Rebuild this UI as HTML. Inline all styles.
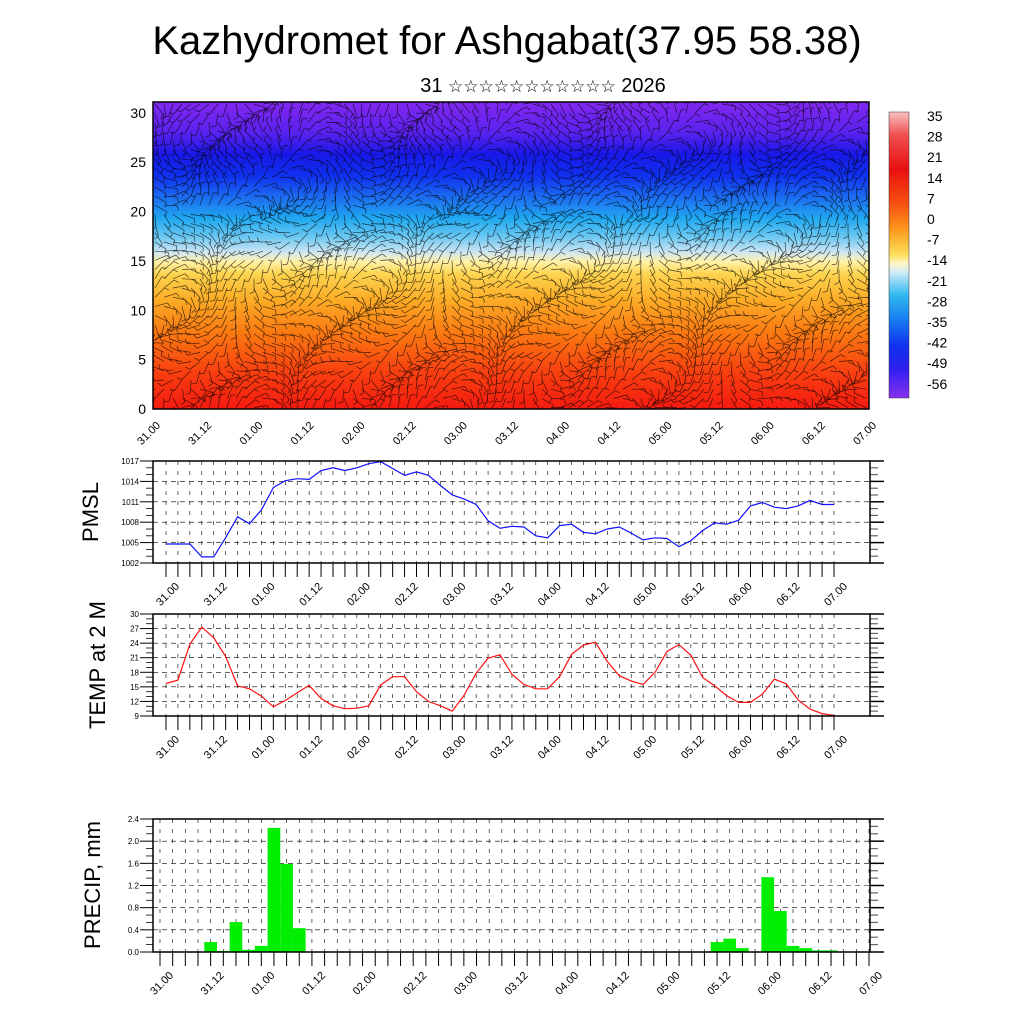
<!DOCTYPE html>
<html><head><meta charset="utf-8">
<style>
html,body{margin:0;padding:0;background:#fff;}
svg{display:block;font-family:"Liberation Sans","DejaVu Sans",sans-serif;}
</style></head>
<body>
<svg id="chart" width="1024" height="1024" viewBox="0 0 1024 1024" xmlns="http://www.w3.org/2000/svg">
<defs>
<linearGradient id="tgrad" x1="0" y1="1" x2="0" y2="0">
<stop offset="0" stop-color="#f51a10"/>
<stop offset="0.12" stop-color="#f84010"/>
<stop offset="0.25" stop-color="#fa7a12"/>
<stop offset="0.36" stop-color="#fcae28"/>
<stop offset="0.44" stop-color="#fdd450"/>
<stop offset="0.48" stop-color="#fff2a8"/>
<stop offset="0.51" stop-color="#cfe6f2"/>
<stop offset="0.56" stop-color="#6cc8f2"/>
<stop offset="0.62" stop-color="#20a8f0"/>
<stop offset="0.69" stop-color="#1c6cf0"/>
<stop offset="0.76" stop-color="#1030ee"/>
<stop offset="0.83" stop-color="#1818e6"/>
<stop offset="0.9" stop-color="#5a22ee"/>
<stop offset="1" stop-color="#8228f0"/>
</linearGradient>
<linearGradient id="cbgrad" x1="0" y1="0" x2="0" y2="1">
<stop offset="0" stop-color="#f8c0c0"/>
<stop offset="0.08" stop-color="#f05050"/>
<stop offset="0.2" stop-color="#e81010"/>
<stop offset="0.32" stop-color="#f85010"/>
<stop offset="0.42" stop-color="#fca020"/>
<stop offset="0.5" stop-color="#fde060"/>
<stop offset="0.53" stop-color="#fff6c8"/>
<stop offset="0.56" stop-color="#d0ecf8"/>
<stop offset="0.64" stop-color="#30b8f0"/>
<stop offset="0.72" stop-color="#1880f0"/>
<stop offset="0.82" stop-color="#1030f0"/>
<stop offset="0.9" stop-color="#3020f0"/>
<stop offset="1" stop-color="#8830f0"/>
</linearGradient>
<clipPath id="topclip"><rect x="153" y="102" width="716" height="307"/></clipPath>
</defs>

<text x="543" y="92" font-size="20" text-anchor="middle">31 <tspan font-size="17" font-family="DejaVu Sans, sans-serif">☆☆☆☆☆☆☆☆☆☆☆</tspan> 2026</text>
<text x="507" y="54" font-size="40" text-anchor="middle">Kazhydromet for Ashgabat(37.95 58.38)</text>

<g id="top">
<rect x="153" y="102" width="716" height="307" fill="url(#tgrad)"/>
<g id="barbs" clip-path="url(#topclip)"></g>
<rect x="153" y="102" width="716" height="307" fill="none" stroke="#000" stroke-width="1.5"/>
</g>
<g id="cbar">
<rect x="889" y="112" width="20" height="286" fill="url(#cbgrad)" stroke="#333" stroke-width="0.5"/>
</g>

<text transform="translate(98,512) rotate(-90)" font-size="22" text-anchor="middle">PMSL</text>
<text transform="translate(105,665) rotate(-90)" font-size="22" text-anchor="middle">TEMP at 2 M</text>
<text transform="translate(100,885) rotate(-90)" font-size="22" text-anchor="middle">PRECIP, mm</text>

<g id="p1"></g>
<g id="p2"></g>
<g id="p3"></g>
</svg>
<script>
const timeLabels = ["31.00","31.12","01.00","01.12","02.00","02.12","03.00","03.12","04.00","04.12","05.00","05.12","06.00","06.12","07.00"];
const heightTicks = [0,5,10,15,20,25,30];
const colorbarLabels = [35,28,21,14,7,0,-7,-14,-21,-28,-35,-42,-49,-56];
const pmslValues = [1004.8,1004.8,1004.8,1002.9,1002.9,1005.7,1008.8,1007.8,1009.8,1013.1,1014.1,1014.4,1014.3,1015.6,1016.0,1015.6,1016.0,1016.6,1016.9,1015.9,1014.9,1015.4,1014.9,1013.4,1012.0,1011.4,1010.6,1008.2,1007.1,1007.4,1007.3,1006.0,1005.7,1007.5,1007.7,1006.5,1006.3,1007.0,1007.3,1006.4,1005.4,1005.7,1005.6,1004.4,1005.3,1006.8,1007.9,1007.7,1008.3,1010.4,1010.9,1010.2,1010.0,1010.4,1011.2,1010.6,1010.6];
const pmslTicks = [1002,1005,1008,1011,1014,1017];
const tempValues = [15.7,16.4,23.8,27.3,25.1,21.3,15.2,14.6,13.1,10.9,12.2,13.8,15.3,12.6,11.1,10.5,10.6,11.1,15.4,17.1,17.1,14.0,12.0,11.1,10.0,13.3,17.8,20.9,21.6,17.6,15.5,14.6,14.6,17.1,21.7,23.6,24.2,20.2,17.3,16.2,15.5,18.0,22.3,23.7,21.5,16.9,15.2,13.2,11.8,11.8,13.5,16.6,15.6,12.3,10.4,9.5,9.1];
const tempTicks = [9,12,15,18,21,24,27,30];
const precipValues = [0,0,0,0,0.18,0.02,0.54,0.04,0.11,2.24,1.59,0.43,0,0,0,0,0,0,0,0,0,0,0,0,0,0,0,0,0,0,0,0,0,0,0,0,0,0,0,0,0,0,0,0,0.18,0.24,0.07,0,1.35,0.74,0.11,0.07,0.03,0.03,0,0,0];
const precipTicks = ["0.0","0.4","0.8","1.2","1.6","2.0","2.4"];

const NS="http://www.w3.org/2000/svg";
function mk(tag,attrs,parent){const e=document.createElementNS(NS,tag);for(const k in attrs)e.setAttribute(k,attrs[k]);parent.appendChild(e);return e;}

const topG=document.getElementById('top');
const tx0=153,tx1=869,ty0=409,ty1=102,tmax=31.1;
const tX=i=>tx0+(tx1-tx0)*i/(timeLabels.length-1);
const tY=v=>ty0-(ty0-ty1)*v/tmax;
heightTicks.forEach(v=>{
  const t=mk('text',{x:146,y:tY(v)+5,'font-size':14,'text-anchor':'end'},topG);
  t.textContent=v;
  
  
});
timeLabels.forEach((l,i)=>{
  const x=tX(i)+8,y=426;
  const t=mk('text',{x:x,y:y,'font-size':11,'text-anchor':'end',transform:`rotate(-45 ${x} ${y})`},topG);
  t.textContent=l;
  
  
});
const barbs=document.getElementById('barbs');
let d='';
for(let gx=0;gx<80;gx++){for(let gy=0;gy<34;gy++){
  const x=155+gx*9,y=104+gy*9.2;
  const a=Math.sin(gx*0.31+gy*0.27)*1.7+Math.cos(gy*0.45+gx*0.05)*0.9+(gy<12?0:1.1);
  const L=13;
  const x2=x+L*Math.cos(a),y2=y+L*Math.sin(a);
  d+=`M${x.toFixed(1)} ${y.toFixed(1)}L${x2.toFixed(1)} ${y2.toFixed(1)}`;
  const b=a+1.2;
  d+=`M${x2.toFixed(1)} ${y2.toFixed(1)}l${(5*Math.cos(b)).toFixed(1)} ${(5*Math.sin(b)).toFixed(1)}`;
}}
mk('path',{d:d,stroke:'#000','stroke-width':0.7,'stroke-opacity':0.7,fill:'none'},barbs);

const cb=document.getElementById('cbar');
colorbarLabels.forEach((v,i)=>{
  const t=mk('text',{x:927,y:121+i*20.6,'font-size':14},cb);
  t.textContent=v;
  
  
});

function panel(g,o){
  const {x0,x1,y0,y1,d0,d1,ticks,vmin,vmax,labelFs}=o;
  const n=57;
  const X=i=>d0+(d1-d0)*i/(n-1);
  const Y=v=>y0-(y0-y1)*(v-vmin)/(vmax-vmin);
  for(let i=0;i<n;i++){
    const l=mk('line',{x1:X(i),x2:X(i),y1:y1,y2:y0,stroke:'#000','stroke-width':0.6,'stroke-dasharray':'4 6'},g);
    
    
    const tk=mk('line',{x1:X(i),x2:X(i),y1:y0,y2:y0+14,stroke:'#000','stroke-width':1},g);
    
    
  }
  ticks.forEach((lab,k)=>{
    const v=vmin+(vmax-vmin)*k/(ticks.length-1);
    const y=Y(v);
    const gl=mk('line',{x1:x0,x2:x1,y1:y,y2:y,stroke:'#000','stroke-width':0.6,'stroke-dasharray':'5 4'},g);
    
    
    mk('line',{x1:x0-13,x2:x0,y1:y,y2:y,stroke:'#000','stroke-width':1},g);
    mk('line',{x1:x1,x2:x1+14,y1:y,y2:y,stroke:'#000','stroke-width':1.5},g);
    const t=mk('text',{x:x0-14,y:y+3,'font-size':labelFs,'text-anchor':'end'},g);
    t.textContent=lab;
    
    
    if(k<ticks.length-1){
      const step=(Y(v)-Y(vmin+(vmax-vmin)*(k+1)/(ticks.length-1)))/3;
      for(let m=1;m<3;m++){
        mk('line',{x1:x0-7,x2:x0,y1:y-step*m,y2:y-step*m,stroke:'#000','stroke-width':0.8},g);
        mk('line',{x1:x1,x2:x1+8,y1:y-step*m,y2:y-step*m,stroke:'#666','stroke-width':1.2},g);
      }
    }
  });
  timeLabels.forEach((l,i)=>{
    const x=X(i*4)+14,y=y0+24;
    const t=mk('text',{x:x,y:y,'font-size':11,'text-anchor':'end',transform:`rotate(-45 ${x} ${y})`},g);
    t.textContent=l;
    
    
  });
  return {X,Y};
}
function frame(g,x0,x1,y0,y1){
  const f=mk('rect',{x:x0,y:y1,width:x1-x0,height:y0-y1,fill:'none',stroke:'#000','stroke-width':1.5},g);
  
  
}

const p1=document.getElementById('p1');
let ax=panel(p1,{x0:153,x1:870,y0:563,y1:461,d0:166,d1:834,ticks:pmslTicks,vmin:1002,vmax:1017,labelFs:8});
let pts=pmslValues.map((v,i)=>`${ax.X(i).toFixed(1)},${ax.Y(v).toFixed(1)}`).join(' ');
const l1=mk('polyline',{points:pts,fill:'none',stroke:'#1010ff','stroke-width':1.2},p1);


frame(p1,153,870,563,461);

const p2=document.getElementById('p2');
ax=panel(p2,{x0:153,x1:870,y0:716,y1:614,d0:166,d1:834,ticks:tempTicks,vmin:9,vmax:30,labelFs:8});
pts=tempValues.map((v,i)=>`${ax.X(i).toFixed(1)},${ax.Y(v).toFixed(1)}`).join(' ');
const l2=mk('polyline',{points:pts,fill:'none',stroke:'#ff1010','stroke-width':1.2},p2);


frame(p2,153,870,716,614);

const p3=document.getElementById('p3');
ax=panel(p3,{x0:153,x1:870,y0:952,y1:819,d0:160,d1:869,ticks:precipTicks,vmin:0,vmax:2.4,labelFs:8});
const bw=(869-160)/56;
precipValues.forEach((v,i)=>{
  if(v<=0)return;
  const r=mk('rect',{x:ax.X(i)-bw/2,y:ax.Y(v),width:bw,height:952-ax.Y(v),fill:'#00ee00'},p3);
  
  
});
frame(p3,153,870,952,819);
</script>
</body></html>
